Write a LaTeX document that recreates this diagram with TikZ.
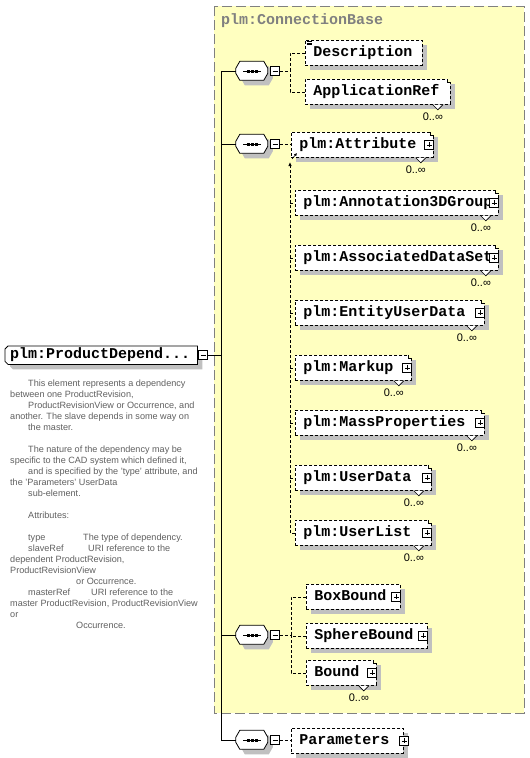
\documentclass[tikz,border=0pt]{standalone}
\usepackage{fontspec}
\setmainfont{Liberation Sans}
\setmonofont{Liberation Mono}
\usetikzlibrary{shadows,arrows.meta,backgrounds}

\definecolor{cbfill}{HTML}{FFFFC0}
\definecolor{shade}{HTML}{C0C0C0}
\definecolor{docgray}{HTML}{606060}
\definecolor{framegray}{HTML}{808080}

\tikzset{
  shadowed/.style={drop shadow={shadow xshift=5pt, shadow yshift=-5pt, fill=shade, opacity=1}},
  namefont/.style={font=\ttfamily\bfseries\fontsize{15}{16}\selectfont, text height=9pt, text depth=2pt},
  elem/.style={draw, dash pattern=on 3pt off 2pt, line width=0.8pt, fill=white, shadowed,
    anchor=north west, inner xsep=8pt, inner ysep=0pt, minimum height=25pt, align=left, namefont},
  root/.style={anchor=north west, inner xsep=5pt, inner ysep=0pt, minimum height=18pt, align=left, namefont},
  seq/.style={minimum width=32pt, minimum height=19pt, inner sep=0pt},
  shapeline/.style={draw, line width=0.8pt, fill=white, shadowed},
  tog/.style={draw, solid, line width=0.7pt, fill=white, minimum size=9pt, inner sep=0pt},
  minus/.style={tog, path picture={
    \draw ([xshift=2pt]path picture bounding box.west) -- ([xshift=-2pt]path picture bounding box.east);}},
  plus/.style={tog, path picture={
    \draw ([xshift=2pt]path picture bounding box.west) -- ([xshift=-2pt]path picture bounding box.east);
    \draw ([yshift=-2pt]path picture bounding box.north) -- ([yshift=2pt]path picture bounding box.south);}},
  conn/.style={dash pattern=on 3pt off 2pt, line width=0.8pt},
  trunkline/.style={line width=0.9pt},
  frame/.style={draw=framegray, line width=1pt, dash pattern=on 10pt off 4pt, fill=cbfill},
  title/.style={anchor=west, inner sep=0pt, text=framegray, font=\ttfamily\bfseries\fontsize{15}{16}\selectfont},
  mult/.style={inner sep=0pt, font=\fontsize{11}{12}\selectfont},
  doc/.style={anchor=north west, inner sep=0pt, align=left, text=docgray, font=\fontsize{9.1}{11}\selectfont},
}

\newcommand\stackmark[1]{%
  \fill[cbfill] ([shift={(-3.4,-0.6)}]#1.north east) rectangle ([shift={(0.6,3.4)}]#1.north east);
  \draw[line width=0.8pt] ([shift={(-3,0)}]#1.north east) -- ([shift={(-3,3)}]#1.north east) -- ([shift={(0,3)}]#1.north east);
  \draw[line width=0.7pt, fill=white] ([shift={(-18,0)}]#1.south east) -- ([shift={(-13,5)}]#1.south east) -- ([shift={(-8,0)}]#1.south east);
  \node[mult] (#1-m) at ([shift={(-18,12)}]#1.south east) {0..∞};
}

\begin{document}
\begin{tikzpicture}[x=1pt,y=-1pt]
\useasboundingbox (0,0) rectangle (530,758);
\node[title] (cbase) at (221,21) {plm:ConnectionBase};

\node[root, text width=182pt] (pd) at (5,346) {plm:ProductDepend...};
\node[minus] (pdm) at (203,355) {};
\coordinate (trunk) at (221,355);

\node[seq] (s1) at (252,71) {};
\node[seq] (s2) at (252,144) {};
\node[seq] (s3) at (252,635) {};
\node[seq] (s4) at (252,740) {};
\foreach \s in {s1,s2,s3,s4} {
  \draw[line width=1pt] ([xshift=-9pt]\s.center) -- ([xshift=9pt]\s.center);
  \foreach \d in {-4,0,4}
    \fill ([shift={(\d-1.5,-1.5)}]\s.center) rectangle ++(3,3);
  \node[minus] (\s-m) at ([xshift=7pt]\s.east) {};
}

\draw[trunkline] (pdm.east) -- (trunk);
\draw[trunkline] (s1.west) -| (trunk);
\draw[trunkline] (s4.west) -| (trunk);
\draw[trunkline] (s2.west) -- (s2.west -| trunk);
\draw[trunkline] (s3.west) -- (s3.west -| trunk);

\node[elem, text width=101pt] (desc) at (305,40) {Description};
\node[elem, text width=129pt] (appref) at (305,79) {ApplicationRef};
\node[elem, text width=126pt] (attr) at (291,132) {plm:Attribute};
\node[elem, text width=187pt] (annot) at (295,190) {plm:Annotation3DGroup};
\node[elem, text width=187pt] (assoc) at (295,245) {plm:AssociatedDataSet};
\node[elem, text width=173pt] (entity) at (295,300) {plm:EntityUserData};
\node[elem, text width=100pt] (markup) at (295,355) {plm:Markup};
\node[elem, text width=173pt] (mass) at (295,410) {plm:MassProperties};
\node[elem, text width=120pt] (udata) at (295,465) {plm:UserData};
\node[elem, text width=120pt] (ulist) at (295,520) {plm:UserList};
\node[elem, text width=78pt] (boxb) at (306,584) {BoxBound};
\node[elem, text width=105pt] (sphb) at (306,623) {SphereBound};
\node[elem, text width=54pt] (bound) at (306,660) {Bound};
\node[elem, text width=96pt] (params) at (291,728) {Parameters};

\foreach \n in {appref,attr,annot,assoc,entity,markup,mass,udata,ulist,bound}
  \stackmark{\n}
\foreach \n in {attr,annot,assoc,entity,markup,mass,udata,ulist,boxb,sphb,bound}
  \node[plus] (\n-p) at ([xshift=-4.5pt]\n.east) {};
\node[plus] (params-p) at ([xshift=0.5pt]params.east) {};
\foreach \d in {1.5,3,4.5}
  \draw[line width=0.6pt] ([shift={(1.5,\d)}]desc.north west) -- ++(5,0);

\coordinate (j1) at (290,71);
\draw[conn] (s1-m.east) -- (j1);
\draw[conn] (desc.west) -| (j1);
\draw[conn] (appref.west) -| (j1);

\coordinate (j2) at (290,162);
\draw[conn] (s2-m.east) -- (s2-m.east -| attr.west);
\draw[conn, -{Latex[length=4pt,width=3.5pt]}] (ulist.west) -| (j2);
\foreach \n in {annot,assoc,entity,markup,mass,udata}
  \draw[conn] (\n.west -| j2) -- (\n.west);
\draw[line width=0.6pt, -{Latex[length=3pt,width=3pt]}] ([shift={(2,-3)}]j2) -- ([shift={(7,-9)}]j2);

\coordinate (j3) at (291,635);
\draw[conn] (s3-m.east) -- (j3);
\draw[conn] (boxb.west) -| (j3);
\draw[conn] (sphb.west) -| (j3);
\draw[conn] (bound.west) -| (j3);

\draw[conn] (s4-m.east) -- (s4-m.east -| params.west);

\node[doc] (docu) at (10,380) {%
\hspace*{18pt}This element represents a dependency\\
between one ProductRevision,\\
\hspace*{18pt}ProductRevisionView or Occurrence, and\\
another. The slave depends in some way on\\
\hspace*{18pt}the master.\\[11pt]
\hspace*{18pt}The nature of the dependency may be\\
specific to the CAD system which defined it,\\
\hspace*{18pt}and is specified by the 'type' attribute, and\\
the 'Parameters' UserData\\
\hspace*{18pt}sub-element.\\[11pt]
\hspace*{18pt}Attributes:\\[11pt]
\hspace*{18pt}\makebox[55pt][l]{type}The type of dependency.\\
\hspace*{18pt}\makebox[60pt][l]{slaveRef}URI reference to the\\
dependent ProductRevision,\\
ProductRevisionView\\
\hspace*{66pt}or Occurrence.\\
\hspace*{18pt}\makebox[63pt][l]{masterRef}URI reference to the\\
master ProductRevision, ProductRevisionView\\
or\\
\hspace*{66pt}Occurrence.};

\begin{pgfonlayer}{background}
\fill[white] (0,0) rectangle (530,758);
\draw[frame] (214,6) rectangle (524,713);
\draw[shapeline] ([shift={(3,0)}]pd.north west) -- (pd.north east) -- (pd.south east)
  -- ([shift={(3,0)}]pd.south west) -- ([shift={(0,-3)}]pd.south west)
  -- ([shift={(0,3)}]pd.north west) -- cycle;
\foreach \s in {s1,s2,s3,s4}
  \draw[shapeline] ([shift={(4,0)}]\s.north west) -- ([shift={(28,0)}]\s.north west)
    -- ([shift={(32,7)}]\s.north west) -- ([shift={(32,12)}]\s.north west)
    -- ([shift={(28,19)}]\s.north west) -- ([shift={(4,19)}]\s.north west)
    -- ([shift={(0,12)}]\s.north west) -- ([shift={(0,7)}]\s.north west) -- cycle;
\end{pgfonlayer}
\end{tikzpicture}
\end{document}
